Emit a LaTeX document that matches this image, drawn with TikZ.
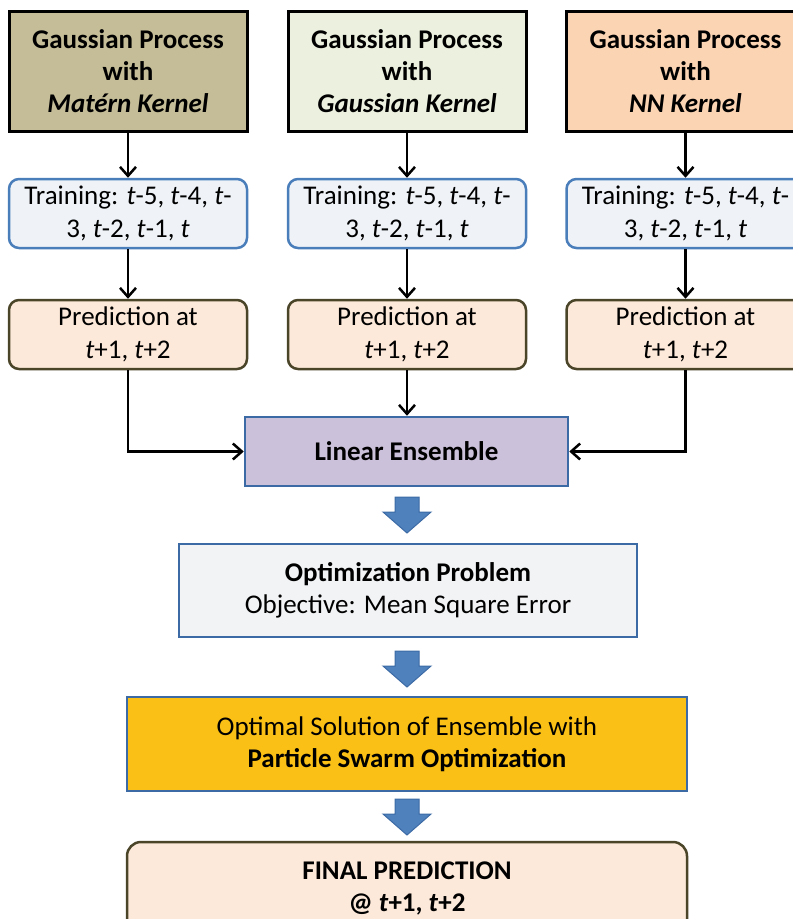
\documentclass[tikz,border=0pt]{standalone}
\usepackage{fontspec}
\setmainfont{Carlito}
\usepackage{tikz}
\usetikzlibrary{arrows.meta}

\definecolor{matern}{HTML}{C4BD97}
\definecolor{gauss}{HTML}{EBF1DE}
\definecolor{nnk}{HTML}{FBD4B4}
\definecolor{trainfill}{HTML}{EFF3F8}
\definecolor{trainline}{HTML}{4A7EBB}
\definecolor{predfill}{HTML}{FDE9D9}
\definecolor{predline}{HTML}{4A4529}
\definecolor{boxblue}{HTML}{3C6AA5}
\definecolor{ensfill}{HTML}{CCC1DA}
\definecolor{optfill}{HTML}{F2F3F5}
\definecolor{psofill}{HTML}{FBC015}
\definecolor{fatblue}{HTML}{4F81BD}

\newcommand{\tvar}{\textit{t}}
\newcommand{\blockarrow}[1]{\draw[fatarrow] (#1) ++(-12,0) -- ++(24,0) -- ++(0,15) -- ++(12,0) -- ++(-24,21) -- ++(-24,-21) -- ++(12,0) -- cycle;}

\tikzset{
  gpbox/.style={draw=black, line width=3pt, minimum width=238, minimum height=120, inner sep=0pt, align=center, font=\fontsize{27}{32}\selectfont\bfseries},
  trainbox/.style={draw=trainline, fill=trainfill, line width=2.5pt, rounded corners=10pt, minimum width=238, minimum height=69, inner sep=0pt, align=center, font=\fontsize{27}{33}\selectfont},
  predbox/.style={trainbox, draw=predline, fill=predfill},
  bluebox/.style={draw=boxblue, line width=2.5pt, inner sep=0pt, align=center, font=\fontsize{27}{32}\selectfont},
  conn/.style={-{Straight Barb[length=9pt,width=16pt]}, line width=2.5pt},
  fatarrow/.style={draw=boxblue, fill=fatblue, line width=1pt, line join=miter}
}

\begin{document}
\begin{tikzpicture}[x=1pt, y=-1pt]
  \useasboundingbox (0,0) rectangle (793,919);
  \fill[white] (0,0) rectangle (793,919); %背景
  % 上段
  \node[gpbox, fill=matern] (gpm) at (128,71) {Gaussian Process\\with\\\textit{Matérn Kernel}};
  \node[gpbox, fill=gauss] (gpg) at (407,71) {Gaussian Process\\with\\\textit{Gaussian Kernel}};
  \node[gpbox, fill=nnk] (gpn) at (685.5,71) {Gaussian Process\\with\\\textit{NN Kernel}};
  % 学習
  \node[trainbox] (trm) at (128,213.5) {Training: \tvar-5, \tvar-4, \tvar-\\3, \tvar-2, \tvar-1, \tvar};
  \node[trainbox] (trg) at (407,213.5) {Training: \tvar-5, \tvar-4, \tvar-\\3, \tvar-2, \tvar-1, \tvar};
  \node[trainbox] (trn) at (685.5,213.5) {Training: \tvar-5, \tvar-4, \tvar-\\3, \tvar-2, \tvar-1, \tvar};
  % 予測
  \node[predbox] (prm) at (128,334.5) {Prediction at\\\tvar+1, \tvar+2};
  \node[predbox] (prg) at (407,334.5) {Prediction at\\\tvar+1, \tvar+2};
  \node[predbox] (prn) at (685.5,334.5) {Prediction at\\\tvar+1, \tvar+2};
  % 下段
  \node[bluebox, fill=ensfill, minimum width=323, minimum height=69, font=\fontsize{27}{32}\selectfont\bfseries] (ens) at (406.5,451.5) {Linear Ensemble};
  \node[bluebox, fill=optfill, minimum width=458, minimum height=93] (opt) at (408,590.5) {\textbf{Optimization Problem}\\Objective: Mean Square Error};
  \node[bluebox, fill=psofill, minimum width=560, minimum height=94] (pso) at (407,744) {Optimal Solution of Ensemble with\\\textbf{Particle Swarm Optimization}};
  \node[predbox, minimum width=560, minimum height=92, rounded corners=14pt, font=\fontsize{27}{32}\selectfont\bfseries] (fin) at (407,888) {FINAL PREDICTION\\@ \tvar+1, \tvar+2};
  % 矢印
  \draw[conn] (gpm) -- (trm);
  \draw[conn] (gpg) -- (trg);
  \draw[conn] (gpn) -- (trn);
  \draw[conn] (trm) -- (prm);
  \draw[conn] (trg) -- (prg);
  \draw[conn] (trn) -- (prn);
  \draw[conn] (prm.south) |- (ens.west);
  \draw[conn] (prg.south) -- (prg.south |- ens.north);
  \draw[conn] (prn.south) |- (ens.east);
  \coordinate (fa1) at (407,497);
  \coordinate (fa2) at (407,651);
  \coordinate (fa3) at (407,799);
  \blockarrow{fa1}
  \blockarrow{fa2}
  \blockarrow{fa3}
\end{tikzpicture}
\end{document}
